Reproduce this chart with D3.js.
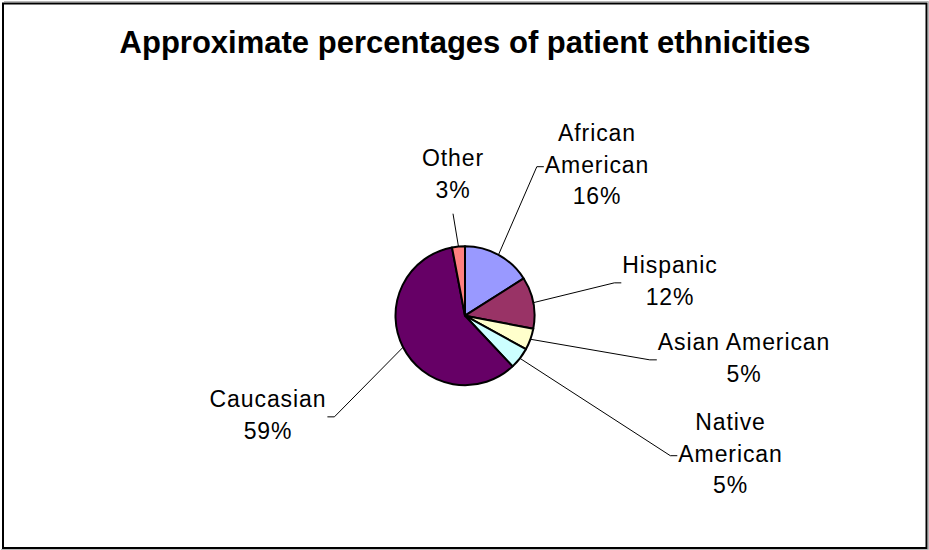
<!DOCTYPE html>
<html>
<head>
<meta charset="utf-8">
<script src="https://cdn.jsdelivr.net/npm/d3@7"></script>
<style>
  html, body { margin: 0; padding: 0; background: #fff; }
  svg { display: block; }
</style>
</head>
<body>
<svg id="chart" width="929" height="550"></svg>
<script>
// Patient ethnicity shares (percent), clockwise from 12 o'clock
const categories = ["African American", "Hispanic", "Asian American", "Native American", "Caucasian", "Other"];
const percentages = [16, 12, 5, 5, 59, 3];
const labelLines = [["African", "American"], ["Hispanic"], ["Asian American"], ["Native", "American"], ["Caucasian"], ["Other"]];
const sliceColors = ["#9999FF", "#993366", "#FFFFCC", "#CCFFFF", "#660066", "#FF8080"];
const chartTitle = "Approximate percentages of patient ethnicities";

// Label placement: text centre x and first baseline y, relative to the pie centre
const labelOffsets = [[132, -174.7], [205, -42.7], [279, 34.3], [265.5, 114.3], [-197, 91.3], [-12, -149.7]];

const W = 929, H = 550;
const cx = 465, cy = 315.7, radius = 69.5;
const lineStep = 31.7;
const fontFamily = "'Liberation Sans', Arial, Helvetica, sans-serif";

const svg = d3.select("#chart");

// Chart frame with a faint drop edge
svg.append("path")
  .attr("d", `M4,1.5H928.5V549.5H1`)
  .attr("fill", "none")
  .attr("stroke", "#b8b8b8")
  .attr("stroke-width", 1);
svg.append("rect")
  .attr("x", 3).attr("y", 3.5)
  .attr("width", 923.5).attr("height", 544.5)
  .attr("fill", "#fff")
  .attr("stroke", "#000")
  .attr("stroke-width", 2);

// Title
svg.append("text")
  .attr("x", cx).attr("y", 53)
  .attr("text-anchor", "middle")
  .attr("font-family", fontFamily)
  .attr("font-weight", "bold")
  .attr("font-size", 31)
  .attr("fill", "#000")
  .text(chartTitle);

const data = categories.map((c, i) => ({
  name: c, value: percentages[i], lines: labelLines[i],
  color: sliceColors[i], offset: labelOffsets[i]
}));

const pie = d3.pie().sort(null).value(d => d.value).startAngle(0).endAngle(2 * Math.PI);
const arcs = pie(data);
const arc = d3.arc().innerRadius(0).outerRadius(radius);

const g = svg.append("g").attr("transform", `translate(${cx},${cy})`);

g.selectAll("path.slice")
  .data(arcs)
  .join("path")
  .attr("class", "slice")
  .attr("d", arc)
  .attr("fill", d => d.data.color)
  .attr("stroke", "#000")
  .attr("stroke-width", 2)
  .attr("stroke-linejoin", "round");

// Data labels: name lines followed by the percentage
const labels = g.selectAll("g.label")
  .data(arcs)
  .join("g")
  .attr("class", "label");

labels.each(function (d) {
  const sel = d3.select(this);
  const rows = d.data.lines.concat([d.data.value + "%"]);
  const [ox, oy] = d.data.offset;
  const t = sel.append("text")
    .attr("text-anchor", "middle")
    .attr("font-family", fontFamily)
    .attr("font-size", 23)
    .attr("letter-spacing", "0.9px")
    .attr("fill", "#000");
  rows.forEach((r, k) => {
    t.append("tspan").attr("x", ox).attr("y", oy + k * lineStep).text(r);
  });
});

// Leader lines from the middle of each slice's arc to the nearest side of its label
const tick = 7, gap = 1;
labels.each(function (d) {
  const box = this.getBBox();
  const mid = (d.startAngle + d.endAngle) / 2;
  const sx = radius * Math.sin(mid), sy = -radius * Math.cos(mid);
  const midY = box.y + box.height / 2 + 2;
  let pts;
  if (sy > box.y + box.height && sx > box.x && sx < box.x + box.width) {
    pts = [[sx, sy], [box.x + box.width / 2, box.y + box.height + 11]];
  } else if (sx < box.x) {
    const ex = box.x - gap;
    pts = [[sx, sy], [ex - tick, midY], [ex, midY]];
  } else {
    const ex = box.x + box.width + gap;
    pts = [[sx, sy], [ex + tick, midY], [ex, midY]];
  }
  g.insert("path", "g.label")
    .attr("d", d3.line()(pts))
    .attr("fill", "none")
    .attr("stroke", "#000")
    .attr("stroke-width", 1);
});
</script>
</body>
</html>
